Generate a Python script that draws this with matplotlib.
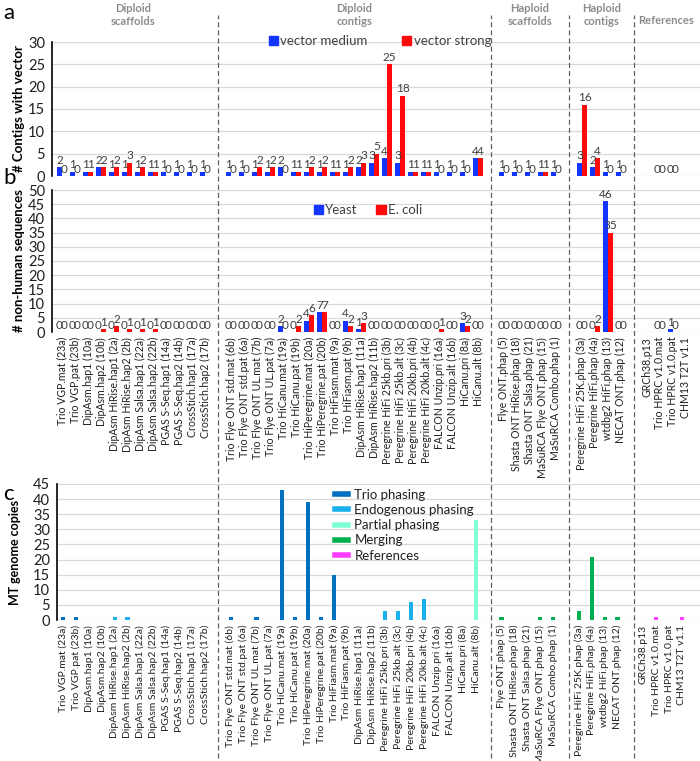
import numpy as np
import matplotlib.pyplot as plt
from matplotlib.lines import Line2D
import matplotlib.patches as mpatches

plt.rcParams['font.family'] = ['Lato', 'DejaVu Sans']

# ---- data ----
group_titles = ['Diploid\nscaffolds', 'Diploid\ncontigs', 'Haploid\nscaffolds', 'Haploid\ncontigs', 'References']

dip_scaf = ['Trio VGP.mat (23a)', 'Trio VGP.pat (23b)', 'DipAsm.hap1 (10a)', 'DipAsm.hap2 (10b)',
            'DipAsm HiRise.hap1 (2a)', 'DipAsm HiRise.hap2 (2b)', 'DipAsm Salsa.hap1 (22a)',
            'DipAsm Salsa.hap2 (22b)', 'PGAS S-Seq.hap1 (14a)', 'PGAS S-Seq.hap2 (14b)',
            'CrossStich.hap1 (17a)', 'CrossStich.hap2 (17b)']
dip_cont = ['Trio Flye ONT std.mat (6b)', 'Trio Flye ONT std.pat (6a)', 'Trio Flye ONT UL.mat (7b)',
            'Trio Flye ONT UL.pat (7a)', 'Trio HiCanu.mat (19a)', 'Trio HiCanu.pat (19b)',
            'Trio HiPeregrine.mat (20a)', 'Trio HiPeregrine.pat (20b)', 'Trio HiFiasm.mat (9a)',
            'Trio HiFiasm.pat (9b)', 'DipAsm HiRise.hap1 (11a)', 'DipAsm HiRise.hap2 (11b)',
            'Peregrine HiFi 25kb.pri (3b)', 'Peregrine HiFi 25kb.alt (3c)', 'Peregrine HiFi 20kb.pri (4b)',
            'Peregrine HiFi 20kb.alt (4c)', 'FALCON Unzip.pri (16a)', 'FALCON Unzip.alt (16b)',
            'HiCanu.pri (8a)', 'HiCanu.alt (8b)']
hap_scaf = ['Flye ONT.phap (5)', 'Shasta ONT HiRise.phap (18)', 'Shasta ONT Salsa.phap (21)',
            'MaSuRCA Flye ONT.phap (15)', 'MaSuRCA Combo.phap (1)']
hap_cont = ['Peregrine HiFi 25K.phap (3a)', 'Peregrine HiFi.phap (4a)', 'wtdbg2 HiFi.phap (13)',
            'NECAT ONT.phap (12)']
refs = ['GRCh38.p13', 'Trio HPRC v1.0.mat', 'Trio HPRC v1.0.pat', 'CHM13 T2T v1.1']

nan = np.nan
# panel a: contigs with vector
vec_medium = [2, 1, 1, 2, 1, 1, 1, 1, 1, 1, 1, 1,
              1, 1, 1, 1, 2, 1, 1, 1, 1, 1, 2, 3, 4, 3, 1, 1, 1, 1, 1, 4,
              1, 1, 1, 1, 1,
              3, 2, 1, 1,
              nan, 0, 0, nan]
vec_strong = [0, 0, 1, 2, 2, 3, 2, 1, 0, 0, 0, 0,
              0, 0, 2, 2, 0, 1, 2, 2, 1, 2, 3, 5, 25, 18, 1, 1, 0, 0, 0, 4,
              0, 0, 0, 1, 0,
              16, 4, 0, 0,
              nan, 0, 0, nan]
# panel b: non-human sequences
yeast = [0, 0, 0, 0, 0, 0, 0, 0, 0, 0, 0, 0,
         0, 0, 0, 0, 2, 0, 4, 7, 0, 4, 1, 0, 0, 0, 0, 0, 0, 0, 3, 0,
         0, 0, 0, 0, 0,
         0, 0, 46, 0,
         nan, 0, 1, nan]
ecoli = [0, 0, 0, 1, 2, 1, 1, 1, 0, 0, 0, 0,
         0, 0, 0, 0, 0, 2, 6, 7, 0, 2, 3, 0, 0, 0, 0, 0, 1, 0, 2, 0,
         0, 0, 0, 0, 0,
         0, 2, 35, 0,
         nan, 0, 0, nan]
# panel c: MT genome copies
mt_copies = [1, 1, 0, 0, 1, 1, 0, 0, 0, 0, 0, 0,
             1, 0, 1, 0, 43, 1, 39, 1, 15, 0, 0, 0, 3, 3, 6, 7, 0, 0, 0, 33,
             1, 0, 0, 1, 1,
             3, 21, 1, 1,
             0, 1, 0, 1]
mt_class = ['Trio phasing'] * 2 + ['Endogenous phasing'] * 10 + \
           ['Trio phasing'] * 10 + ['Endogenous phasing'] * 6 + ['Partial phasing'] * 4 + \
           ['Merging'] * 5 + ['Merging'] * 4 + ['References'] * 4
class_colors = {'Trio phasing': '#0070C0', 'Endogenous phasing': '#1AB0EE',
                'Partial phasing': '#80FFD6', 'Merging': '#00B050', 'References': '#FF3CFF'}

# ---- x positions: one empty slot between groups ----
grp = [dip_scaf, dip_cont, hap_scaf, hap_cont, refs]
labels, xpos, seps, centers = [], [], [], []
i = 0
for k, g in enumerate(grp):
    start = i
    for name in g:
        labels.append(name)
        xpos.append(i)
        i += 1
    centers.append((start + i - 1) / 2)
    if k < len(grp) - 1:
        seps.append(i)
        i += 1
xpos = np.array(xpos, dtype=float)

BLUE = '#1434FF'
RED = '#FF0A0A'
TXT = '#404040'
GRID = '#D9D9D9'
W, H = 700, 761

fig = plt.figure(figsize=(7, 7.61), dpi=100)

def px_axes(l, t, r, b):
    return fig.add_axes([l / W, 1 - b / H, (r - l) / W, (b - t) / H])

ax_a = px_axes(52, 42, 700, 176)
ax_b = px_axes(52, 190, 700, 332)
ax_c = px_axes(57, 484, 700, 620)

def style(ax, ymax, step, ylabel, lab_x, lab_fs=9.5):
    ax.set_ylim(0, ymax)
    ax.set_yticks(np.arange(0, ymax + 1, step))
    ax.grid(axis='y', color=GRID, lw=0.9)
    ax.set_axisbelow(True)
    for s in ['top', 'right', 'bottom']:
        ax.spines[s].set_visible(False)
    ax.spines['left'].set_linewidth(1.2)
    ax.tick_params(axis='y', length=0, labelsize=10.5, colors='#202020', pad=5)
    ax.tick_params(axis='x', length=0)
    ax.set_ylabel(ylabel, fontsize=lab_fs, fontweight='bold')
    bb = ax.get_position()
    ax.yaxis.set_label_coords((lab_x / W - bb.x0) / bb.width, 0.5)

def paired(ax, v1, v2, c1, c2):
    w = 0.38
    b1 = ax.bar(xpos - w / 2, np.nan_to_num(v1), w, color=c1)
    b2 = ax.bar(xpos + w / 2, np.nan_to_num(v2), w, color=c2)
    l1 = ['' if np.isnan(v) else '%d' % v for v in v1]
    l2 = ['' if np.isnan(v) else '%d' % v for v in v2]
    ax.bar_label(b1, labels=l1, padding=1, fontsize=8.5, color=TXT)
    ax.bar_label(b2, labels=l2, padding=1, fontsize=8.5, color=TXT)

paired(ax_a, np.array(vec_medium, dtype=float), np.array(vec_strong, dtype=float), BLUE, RED)
style(ax_a, 30, 5, '# Contigs with vector', 25)
ax_a.set_xlim(-0.77, 49.08)
ax_a.set_xticks([])

paired(ax_b, np.array(yeast, dtype=float), np.array(ecoli, dtype=float), BLUE, RED)
style(ax_b, 50, 5, '# non-human sequences', 25)
ax_b.set_xlim(-0.77, 49.08)
ax_b.set_xticks(xpos)
ax_b.set_xticklabels(labels, rotation=90, fontsize=7.6, color='#202020')

cols = [class_colors[c] for c in mt_class]
ax_c.bar(xpos, mt_copies, 0.32, color=cols)
style(ax_c, 45, 5, 'MT genome copies', 21, 9.0)
ax_c.set_xlim(-0.47, 49.4)
ax_c.set_xticks(xpos)
ax_c.set_xticklabels(labels, rotation=90, fontsize=7.5, color='#202020')

# legends
h_a = [mpatches.Patch(color=BLUE), mpatches.Patch(color=RED)]
fig.legend(h_a, ['vector medium', 'vector strong'], ncol=2, loc='center left',
           bbox_to_anchor=(262 / W, 1 - 41 / H), frameon=False, fontsize=9.5,
           handlelength=0.7, handleheight=0.7, handletextpad=0.2, columnspacing=2.6,
           labelcolor=TXT, borderpad=0)
h_b = [mpatches.Patch(color=BLUE), mpatches.Patch(color=RED)]
fig.legend(h_b, ['Yeast', 'E. coli'], ncol=2, loc='center left',
           bbox_to_anchor=(307 / W, 1 - 210 / H), frameon=False, fontsize=9.5,
           handlelength=0.7, handleheight=0.7, handletextpad=0.2, columnspacing=1.4,
           labelcolor=TXT, borderpad=0)
h_c = [Line2D([], [], color=class_colors[k], lw=4) for k in class_colors]
fig.legend(h_c, list(class_colors), loc='upper left', bbox_to_anchor=(328 / W, 1 - 482 / H),
           frameon=False, fontsize=9.5, handlelength=1.0, handletextpad=0.5,
           labelspacing=0.25, borderpad=0, labelcolor='#202020')

# group separators and titles
tr = ax_b.transData
for s in seps:
    xf = fig.transFigure.inverted().transform(tr.transform((s, 0)))[0]
    fig.add_artist(Line2D([xf, xf], [1 - 758 / H, 1 - 15 / H], color='#606060',
                          lw=0.9, ls=(0, (4, 2.5))))
for c, t in zip(centers, group_titles):
    xf = fig.transFigure.inverted().transform(tr.transform((c, 0)))[0]
    if '\n' in t:
        fig.text(xf, 1 - 15 / H, t, ha='center', va='center', fontsize=8,
                 fontweight='bold', color='#8C8C8C', linespacing=1.3)
    else:
        fig.text(xf, 1 - 20 / H, t, ha='center', va='center', fontsize=8,
                 fontweight='bold', color='#8C8C8C')

for letter, y in [('a', 13), ('b', 178), ('c', 494)]:
    fig.text(3 / W, 1 - y / H, letter, fontsize=16, va='center', ha='left')

fig.savefig('out.png', dpi=100)
